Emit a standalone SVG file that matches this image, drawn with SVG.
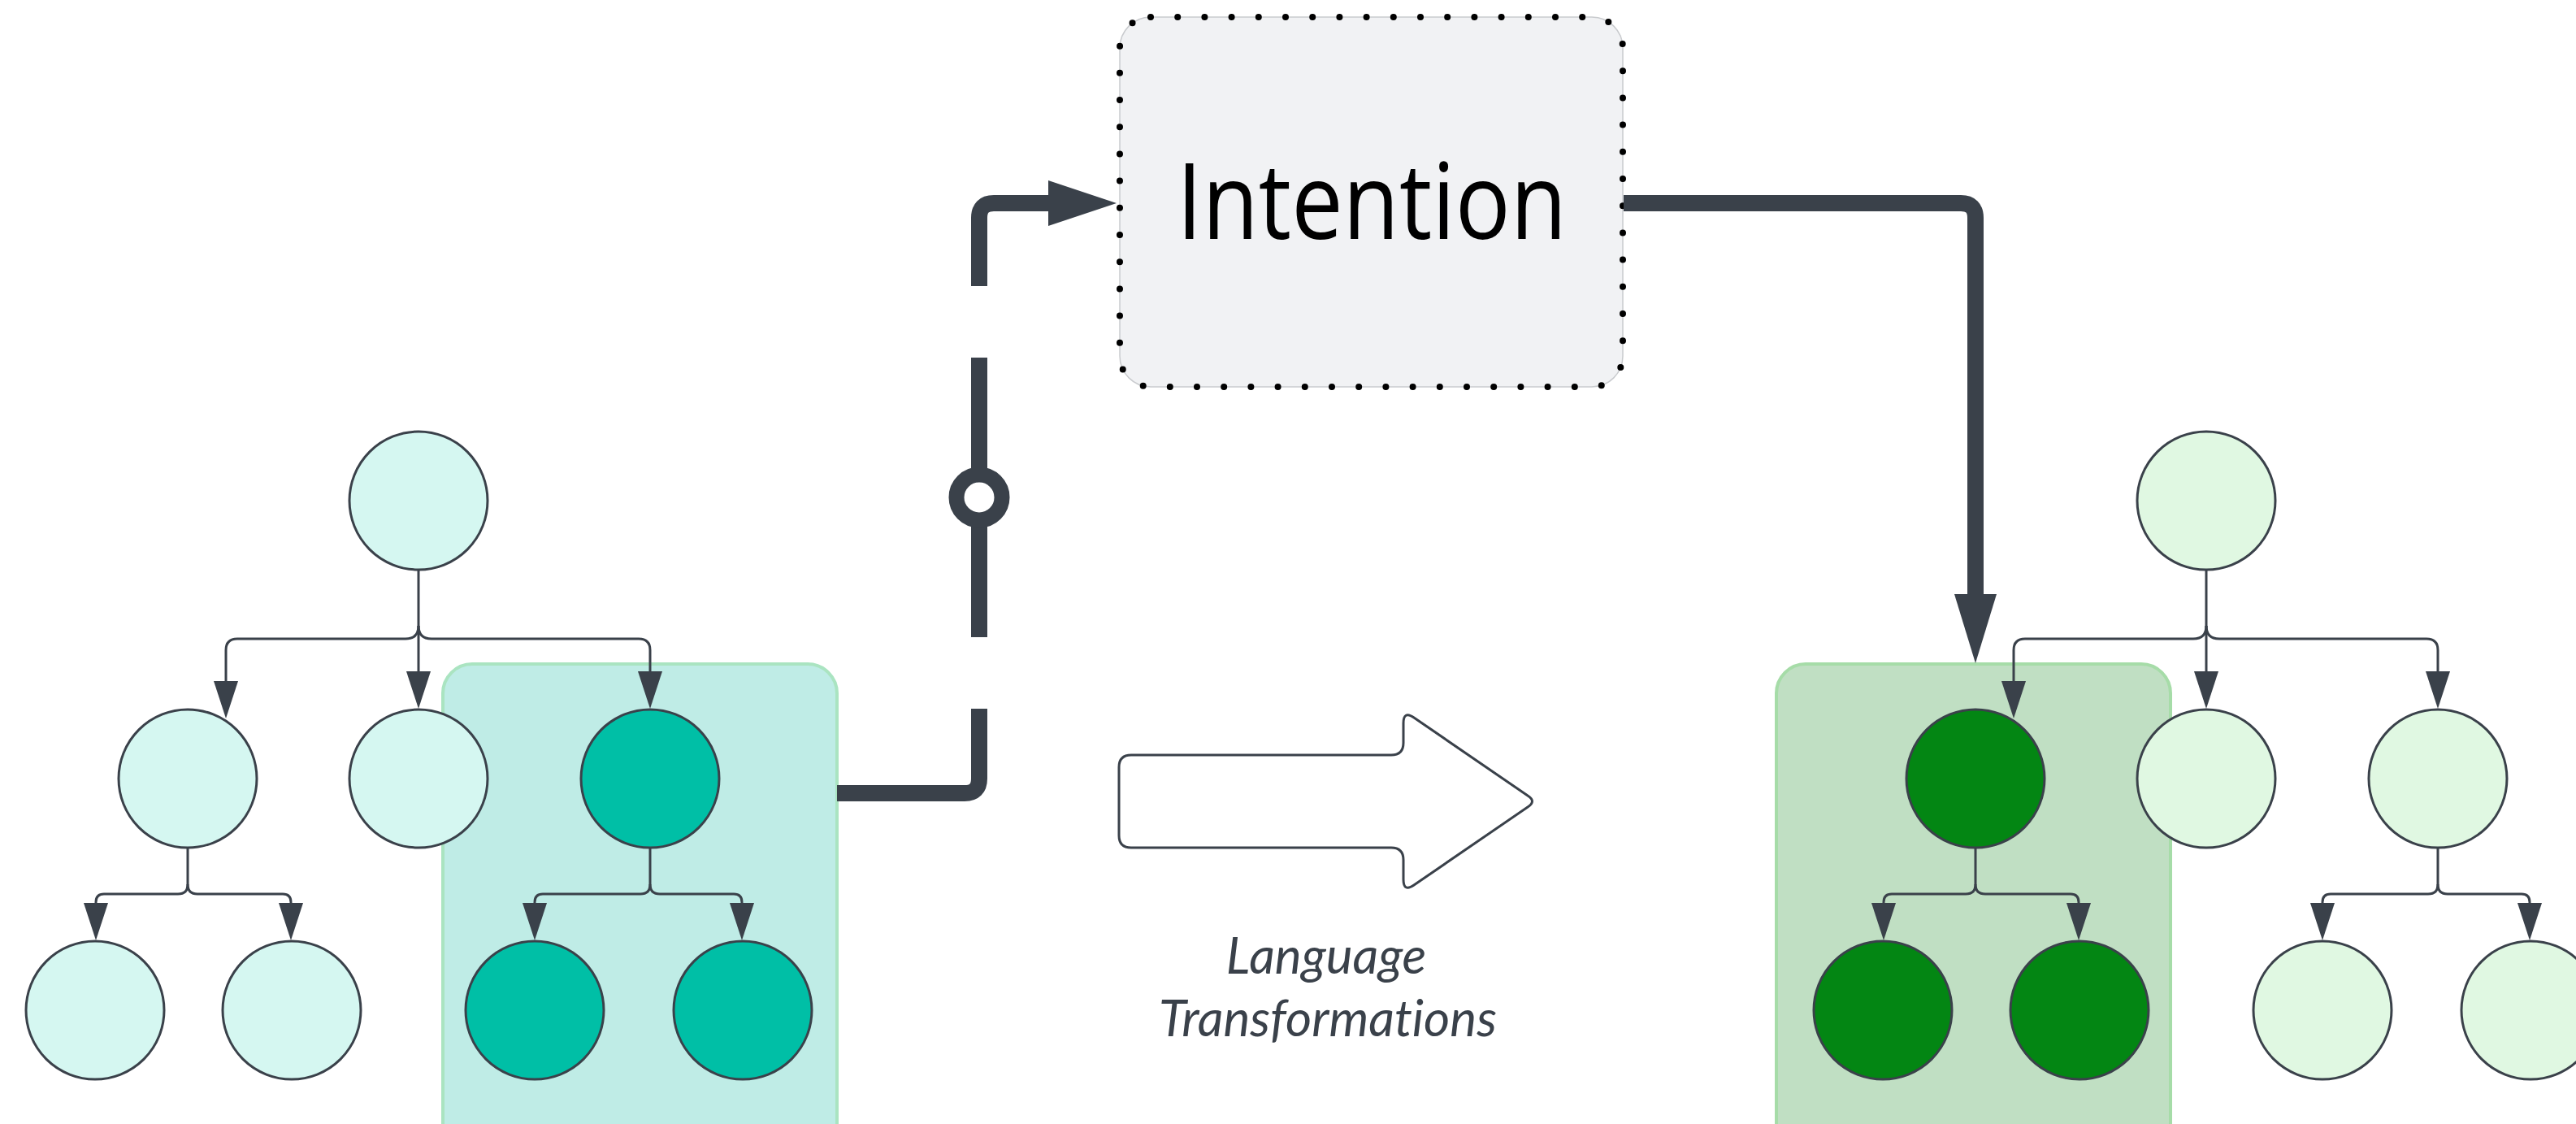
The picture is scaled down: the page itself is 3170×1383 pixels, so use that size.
<svg xmlns="http://www.w3.org/2000/svg" xmlns:xlink="http://www.w3.org/1999/xlink" width="3170" height="1383" viewBox="0 0 3170 1383">
  <style>
    .node { stroke: #3A414A; stroke-width: 3; }
    .teal-light { fill: #D5F7F1; }
    .teal-dark { fill: #00BFA6; }
    .green-light { fill: #E0F8E2; }
    .green-dark { fill: #038613; }
    .edge { fill: none; stroke: #3A414A; stroke-width: 3; }
    .head { fill: #3A414A; }
    .flow { fill: none; stroke: #3A414A; stroke-width: 20; stroke-linecap: butt; }
    .label { font-family: Lato, "Open Sans", "Liberation Sans", sans-serif; font-style: italic; font-size: 62px; fill: #3A414A; text-anchor: middle; font-variant-ligatures: none; }
    .title { font-family: "Open Sans", "Noto Sans", "Liberation Sans", sans-serif; font-size: 130px; fill: #000000; text-anchor: middle; }
  </style>
  <defs>
    <!-- small downward arrowhead, tip at origin -->
    <path id="tip" d="M-15,-46 L15,-46 L0,0 Z"/>
  </defs>

  <rect width="3170" height="1383" fill="#FFFFFF"/>

  <!-- highlighted subtrees -->
  <g id="highlight-left">
    <rect x="545" y="817" width="485" height="620" rx="36" fill="#BFECE6" stroke="#AAE4C1" stroke-width="4"/>
  </g>
  <g id="highlight-right">
    <rect x="2186" y="817" width="485" height="620" rx="36" fill="#C0DFC3" stroke="#A6DCA8" stroke-width="4"/>
  </g>

  <!-- Intention box -->
  <g id="intention">
    <rect x="1378" y="21" width="619" height="455" rx="38" fill="#F1F2F4" stroke="#C9CBCE" stroke-width="1.5"/>
    <rect x="1378" y="21" width="619" height="455" rx="38" fill="none" stroke="#000000" stroke-width="8" stroke-linecap="round" stroke-dasharray="0 33.2"/>
    <text class="title" x="1688" y="294" textLength="480" lengthAdjust="spacingAndGlyphs">Intention</text>
  </g>

  <!-- Language transformation arrow -->
  <g id="transform-arrow">
    <path d="M1392,929 H1712 Q1727,929 1727,914 V890 Q1727,874 1740,883 L1880,979 Q1891,986 1880,993 L1740,1089 Q1727,1098 1727,1082 V1058 Q1727,1043 1712,1043 H1392 Q1377,1043 1377,1028 V944 Q1377,929 1392,929 Z" fill="#FFFFFF" stroke="#3A414A" stroke-width="3"/>
  </g>
  <g id="transform-label">
    <text class="label" x="1632" y="1198">Language</text>
    <text class="label" x="1634" y="1275">Transformations</text>
  </g>

  <g id="connectors">
    <!-- left tree edges -->
    <path class="edge" d="M515,701 V826"/>
    <path class="edge" d="M515,770 Q515,786 499,786 H292 Q278,786 278,800 V840"/>
    <path class="edge" d="M515,770 Q515,786 531,786 H786 Q800,786 800,800 V826"/>
    <path class="edge" d="M231,1043 V1088 Q231,1100 219,1100 H128 Q118,1100 118,1110 V1112"/>
    <path class="edge" d="M231,1088 Q231,1100 243,1100 H348 Q358,1100 358,1110 V1112"/>
    <path class="edge" d="M800,1043 V1088 Q800,1100 788,1100 H668 Q658,1100 658,1110 V1112"/>
    <path class="edge" d="M800,1088 Q800,1100 812,1100 H903 Q913,1100 913,1110 V1112"/>
    <use href="#tip" class="head" x="278" y="884"/>
    <use href="#tip" class="head" x="515" y="872"/>
    <use href="#tip" class="head" x="800" y="872"/>
    <use href="#tip" class="head" x="118" y="1157"/>
    <use href="#tip" class="head" x="358" y="1157"/>
    <use href="#tip" class="head" x="658" y="1157"/>
    <use href="#tip" class="head" x="913" y="1157"/>

    <!-- right tree edges -->
    <path class="edge" d="M2715,701 V826"/>
    <path class="edge" d="M2715,770 Q2715,786 2699,786 H2492 Q2478,786 2478,800 V840"/>
    <path class="edge" d="M2715,770 Q2715,786 2731,786 H2986 Q3000,786 3000,800 V826"/>
    <path class="edge" d="M2431,1043 V1088 Q2431,1100 2419,1100 H2328 Q2318,1100 2318,1110 V1112"/>
    <path class="edge" d="M2431,1088 Q2431,1100 2443,1100 H2548 Q2558,1100 2558,1110 V1112"/>
    <path class="edge" d="M3000,1043 V1088 Q3000,1100 2988,1100 H2868 Q2858,1100 2858,1110 V1112"/>
    <path class="edge" d="M3000,1088 Q3000,1100 3012,1100 H3103 Q3113,1100 3113,1110 V1112"/>
    <use href="#tip" class="head" x="2478" y="884"/>
    <use href="#tip" class="head" x="2715" y="872"/>
    <use href="#tip" class="head" x="3000" y="872"/>
    <use href="#tip" class="head" x="2318" y="1157"/>
    <use href="#tip" class="head" x="2558" y="1157"/>
    <use href="#tip" class="head" x="2858" y="1157"/>
    <use href="#tip" class="head" x="3113" y="1157"/>

    <!-- subtree to Intention: broken line with ring -->
    <path class="flow" d="M1030,976 H1187 Q1205,976 1205,958 V872"/>
    <path class="flow" d="M1205,784 V640"/>
    <circle cx="1205" cy="612" r="28" fill="#FFFFFF" stroke="#3A414A" stroke-width="19"/>
    <path class="flow" d="M1205,584 V440"/>
    <path class="flow" d="M1205,352 V268 Q1205,250 1223,250 H1296"/>
    <path class="head" d="M1290,222 L1374,250 L1290,278 Z"/>

    <!-- Intention to rewritten subtree -->
    <path class="flow" d="M1998,250 H2413 Q2431,250 2431,268 V736"/>
    <path class="head" d="M2405,731 L2457,731 L2431,816 Z"/>
  </g>

  <!-- left tree nodes -->
  <g id="L-root"><circle class="node teal-light" cx="515" cy="616" r="85"/></g>
  <g id="L-a"><circle class="node teal-light" cx="231" cy="958" r="85"/></g>
  <g id="L-b"><circle class="node teal-light" cx="515" cy="958" r="85"/></g>
  <g id="L-c"><circle class="node teal-dark" cx="800" cy="958" r="85"/></g>
  <g id="L-a1"><circle class="node teal-light" cx="117" cy="1243" r="85"/></g>
  <g id="L-a2"><circle class="node teal-light" cx="359" cy="1243" r="85"/></g>
  <g id="L-c1"><circle class="node teal-dark" cx="658" cy="1243" r="85"/></g>
  <g id="L-c2"><circle class="node teal-dark" cx="914" cy="1243" r="85"/></g>

  <!-- right tree nodes -->
  <g id="R-root"><circle class="node green-light" cx="2715" cy="616" r="85"/></g>
  <g id="R-a"><circle class="node green-dark" cx="2431" cy="958" r="85"/></g>
  <g id="R-b"><circle class="node green-light" cx="2715" cy="958" r="85"/></g>
  <g id="R-c"><circle class="node green-light" cx="3000" cy="958" r="85"/></g>
  <g id="R-a1"><circle class="node green-dark" cx="2317" cy="1243" r="85"/></g>
  <g id="R-a2"><circle class="node green-dark" cx="2559" cy="1243" r="85"/></g>
  <g id="R-c1"><circle class="node green-light" cx="2858" cy="1243" r="85"/></g>
  <g id="R-c2"><circle class="node green-light" cx="3114" cy="1243" r="85"/></g>
</svg>
